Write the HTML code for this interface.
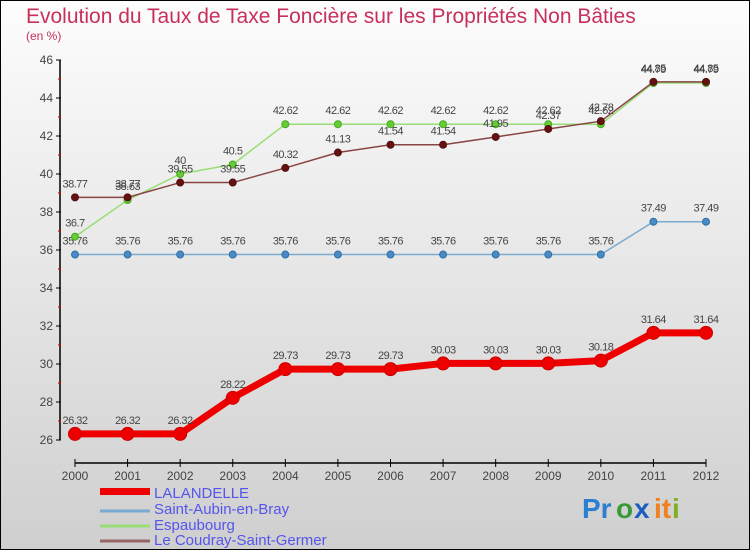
<!DOCTYPE html>
<html><head><meta charset="utf-8"><style>
body{margin:0}
#c{width:750px;height:550px;position:relative;overflow:hidden;font-family:"Liberation Sans",sans-serif}
</style></head><body>
<div id="c">
<svg id="s" width="750" height="550" xmlns="http://www.w3.org/2000/svg">
<defs><linearGradient id="bg" x1="0" y1="0" x2="0" y2="1"><stop offset="0" stop-color="#fdfdfd"/><stop offset="1" stop-color="#cfcfcf"/></linearGradient></defs>
<rect x="0.5" y="0.5" width="749" height="549" fill="url(#bg)" stroke="#000"/>
<text x="26" y="23" font-size="21" fill="#c8305a">Evolution du Taux de Taxe Foncière sur les Propriétés Non Bâties</text>
<text x="26" y="40" font-size="12" fill="#c8305a">(en %)</text>
<g id="axes"></g><g id="series"></g>
<g>
<rect x="100" y="488" width="50" height="7" fill="#e00"/>
<text x="154" y="498" font-size="15" fill="#5555ee">LALANDELLE</text>
<line x1="100" y1="511" x2="150" y2="511" stroke="#7aaad0" stroke-width="3"/>
<text x="154" y="514" font-size="15" fill="#5555ee">Saint-Aubin-en-Bray</text>
<line x1="100" y1="526" x2="150" y2="526" stroke="#99dd77" stroke-width="3"/>
<text x="154" y="530" font-size="15" fill="#5555ee">Espaubourg</text>
<line x1="100" y1="541" x2="150" y2="541" stroke="#996666" stroke-width="3"/>
<text x="154" y="545" font-size="15" fill="#5555ee">Le Coudray-Saint-Germer</text>
</g>
<g font-size="28" font-weight="bold">
<text x="582" y="518" fill="#2a7fd0">Pr</text><text x="616" y="518" fill="#3a9a3a">o</text><text x="634" y="518" fill="#1a5fc0">x</text><text x="654" y="518" fill="#f08020">it</text><text x="672" y="518" fill="#80b020">i</text>
</g>
</svg>
</div>
<script>
const years=[2000,2001,2002,2003,2004,2005,2006,2007,2008,2009,2010,2011,2012];
const yTicks=[26,28,30,32,34,36,38,40,42,44,46];
const lalandelle=[26.32,26.32,26.32,28.22,29.73,29.73,29.73,30.03,30.03,30.03,30.18,31.64,31.64];
const saintAubin=[35.76,35.76,35.76,35.76,35.76,35.76,35.76,35.76,35.76,35.76,35.76,37.49,37.49];
const espaubourg=[36.7,38.63,40,40.5,42.62,42.62,42.62,42.62,42.62,42.62,42.62,44.79,44.79];
const coudray=[38.77,38.77,39.55,39.55,40.32,41.13,41.54,41.54,41.95,42.37,42.78,44.85,44.85];
const NS="http://www.w3.org/2000/svg";
function X(i){return 75+i*(706-75)/12;}
function Y(v){return 440-(v-26)*19;}
function mk(t,a,p){const e=document.createElementNS(NS,t);for(const k in a)e.setAttribute(k,a[k]);p.appendChild(e);return e;}
const ax=document.getElementById('axes');
const yl=mk('line',{x1:60,y1:Y(46),x2:60,y2:Y(26),stroke:'#000','stroke-width':1.5},ax);


yTicks.forEach(v=>{
 mk('line',{x1:56,y1:Y(v),x2:61,y2:Y(v),stroke:'#000'},ax);
 if(v<46)mk('line',{x1:58,y1:Y(v+1),x2:61,y2:Y(v+1),stroke:'#d00'},ax);
 const t=mk('text',{x:53,y:Y(v)+4,'font-size':12,'text-anchor':'end',fill:'#444'},ax);t.textContent=v;
 
 
});
const xl=mk('line',{x1:X(0),y1:463,x2:X(12),y2:463,stroke:'#000','stroke-width':1.5},ax);


years.forEach((yr,i)=>{
 mk('line',{x1:X(i),y1:459,x2:X(i),y2:467,stroke:'#000'},ax);
 const t=mk('text',{x:X(i),y:480,'font-size':12,'text-anchor':'middle',fill:'#444'},ax);t.textContent=yr;
 
 
});
const sg=document.getElementById('series');
function draw(vals,color,w,r,dot,dotStroke,name){
 const g=mk('g',{},sg);
 
 
 mk('polyline',{points:vals.map((v,i)=>X(i)+','+Y(v)).join(' '),fill:'none',stroke:color,'stroke-width':w,'stroke-linejoin':'round'},g);
 vals.forEach((v,i)=>{
  const c=mk('circle',{cx:X(i),cy:Y(v),r:r,fill:dot,stroke:dotStroke,'stroke-width':1},g);
  
  
  const t=mk('text',{x:X(i),y:Y(v)-10,'font-size':11,'text-anchor':'middle',fill:'#444','letter-spacing':'-0.5'},g);t.textContent=v;
 });
}
draw(saintAubin,'#7aaad0',1.5,3.5,'#4a8ac8','#3070a0','series-saint-aubin');
draw(espaubourg,'#99dd77',1.5,3.5,'#66cc33','#44aa22','series-espaubourg');
draw(coudray,'#884444',1.5,3.5,'#661111','#551010','series-coudray');
draw(lalandelle,'#ee0000',7,6.5,'#ee0000','#cc0000','series-lalandelle');
</script>
</body></html>
